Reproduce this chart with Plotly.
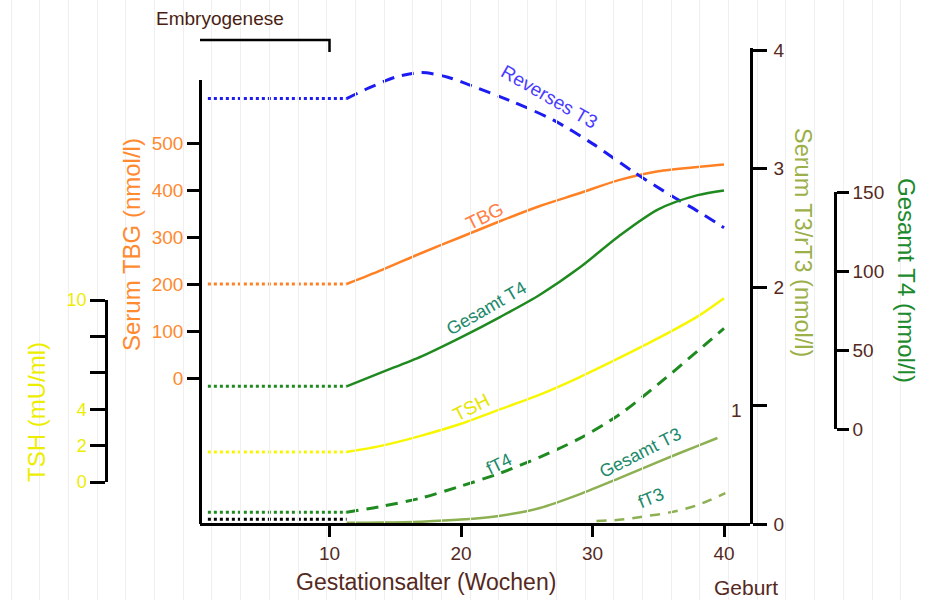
import plotly.graph_objects as go

# ---------------- data ----------------
weeks_dotted = [0.75, 11.3]          # embryonic period, dotted baselines

rt3_dotted = [3.59, 3.59]
weeks_rt3 = [11.3, 13, 15, 17, 19, 21, 24, 27, 30, 33, 36, 38, 40]
rt3 = [3.59, 3.68, 3.77, 3.81, 3.77, 3.69, 3.56, 3.41, 3.21, 2.98, 2.77, 2.64, 2.50]

weeks_main = [11.3, 14, 17, 20, 23, 26, 29, 32, 35, 38, 40]
tbg_dotted = [200, 200]
tbg = [200, 230, 266, 300, 334, 366, 393, 421, 440, 449, 454]
t4_dotted = [27, 27]
t4 = [27, 36, 46, 58, 71, 85, 102, 122, 139, 148, 151]
tsh_dotted = [1.65, 1.65]
tsh = [1.65, 2.0, 2.55, 3.2, 4.0, 4.8, 5.75, 6.8, 7.9, 9.1, 10.1]
ft4_dotted = [0.10, 0.10]
ft4 = [0.10, 0.15, 0.22, 0.32, 0.43, 0.565, 0.72, 0.92, 1.18, 1.46, 1.65]
t3_dotted = [0.04, 0.04]
weeks_t3 = [11.3, 14, 17, 20, 23, 26, 29, 32, 35, 38, 39.5]
t3 = [0.01, 0.012, 0.02, 0.037, 0.07, 0.135, 0.25, 0.385, 0.525, 0.66, 0.726]
weeks_ft3 = [30.3, 32, 34, 36, 38, 40.1]
ft3 = [0.025, 0.035, 0.065, 0.10, 0.16, 0.26]

embryo_weeks = [0, 10]
x_ticks = [10, 20, 30, 40]
tbg_ticks = [0, 100, 200, 300, 400, 500]
tsh_ticks = [0, 2, 4, 6, 8, 10]
tsh_ticktext = ["0", "2", "4", "", "", "10"]
t3_ticks = [0, 1, 2, 3, 4]
t3_ticktext = ["0", "", "2", "3", "4"]
t4_ticks = [0, 50, 100, 150]

# ---------------- styling / geometry ----------------
W, H = 925, 600
FONT = "Liberation Sans, Arial, sans-serif"
BROWN = "#55291d"
BLUE = "#1c1cf2"
ORANGE = "#ff8124"
GREEN = "#1f8a1f"
YELLOW = "#f7f700"
OLIVE = "#8db052"
LBL_GREEN = "#21896a"

def px(x): return x / W
def py(y): return 1 - y / H

X0, XS = 198, 13.15  # pixel of week 0, pixels per week
def xr(p0, p1): return [(p0 - X0) / XS, (p1 - X0) / XS]
def yr(zero, s, bottom, top): return [(zero - bottom) / s, (zero - top) / s]

TBG_Z, TBG_S = 378, 0.47
TSH_Z, TSH_S = 482, 18.2
T3_Z, T3_S = 524, 118.5
T4_Z, T4_S = 429, 1.58

fig = go.Figure()

def add(x, y, yaxis, color, dash=None, width=2.5):
    fig.add_trace(go.Scatter(x=x, y=y, xaxis="x", yaxis=yaxis, mode="lines",
                             line=dict(color=color, width=width, dash=dash, shape="spline", smoothing=0.8),
                             showlegend=False, hoverinfo="skip"))

# dotted embryonic baselines
add(weeks_dotted, rt3_dotted, "y4", BLUE, "dot", 3)
add(weeks_dotted, tbg_dotted, "y2", ORANGE, "dot", 3)
add(weeks_dotted, t4_dotted, "y5", GREEN, "dot", 3)
add(weeks_dotted, tsh_dotted, "y3", YELLOW, "dot", 3)
add(weeks_dotted, ft4_dotted, "y4", GREEN, "dot", 3)
add(weeks_dotted, t3_dotted, "y4", "#000000", "dot", 3)

# fetal curves
add(weeks_rt3, rt3, "y4", BLUE, "12px,8px", 3)
add(weeks_main, tbg, "y2", ORANGE)
add(weeks_main, t4, "y5", GREEN)
add(weeks_main, tsh, "y3", YELLOW)
add(weeks_main, ft4, "y4", GREEN, "12px,8px", 3)
add(weeks_t3, t3, "y4", OLIVE)
add(weeks_ft3, ft3, "y4", OLIVE, "10px,8px", 2.5)

# dummy traces to create the decorative axis subplots
for ya in ["y6", "y7", "y8", "y9"]:
    fig.add_trace(go.Scatter(x=[None], y=[None], xaxis="x2", yaxis=ya, mode="lines",
                             showlegend=False, hoverinfo="skip"))

hidden = dict(visible=False, overlaying="y", anchor="x")
tickfont = dict(family=FONT, size=19, color=BROWN)

layout = dict(
    width=W, height=H, autosize=False,
    margin=dict(l=0, r=0, t=0, b=0, pad=0, autoexpand=False),
    paper_bgcolor="white", plot_bgcolor="rgba(0,0,0,0)",
    font=dict(family=FONT),
    # background grid + data x axis
    xaxis=dict(domain=[0, 1], range=xr(0, W), showgrid=True, gridcolor="#efefef", gridwidth=1,
               tickmode="linear", tick0=(872 - X0) / XS, dtick=28.7 / XS, automargin=False,
               showticklabels=False, ticks="", showline=False, zeroline=False, fixedrange=True),
    yaxis=dict(domain=[0, 1], range=[H, 0], showgrid=True, gridcolor="#efefef", gridwidth=1,
               tickmode="linear", tick0=21.5, dtick=28.7, automargin=False,
               showticklabels=False, ticks="", showline=False, zeroline=False, anchor="x"),
    # data y axes (hidden)
    yaxis2=dict(range=yr(TBG_Z, TBG_S, H, 0), **hidden),
    yaxis3=dict(range=yr(TSH_Z, TSH_S, H, 0), **hidden),
    yaxis4=dict(range=yr(T3_Z, T3_S, H, 0), **hidden),
    yaxis5=dict(range=yr(T4_Z, T4_S, H, 0), **hidden),
    # decorative x axis
    xaxis2=dict(domain=[px(200), px(750)], range=xr(200, 750), anchor="free", position=py(524),
                tickvals=x_ticks, ticks="outside", ticklen=11, tickwidth=2.5, tickcolor="black",
                showline=True, linecolor="black", linewidth=2.5, showgrid=False, zeroline=False,
                tickfont=tickfont, automargin=False),
    # decorative TBG axis
    yaxis6=dict(domain=[py(524), py(80)], range=yr(TBG_Z, TBG_S, 524, 80), anchor="free", position=px(200),
                side="left", tickvals=tbg_ticks, ticks="outside", ticklen=12, tickwidth=2.5, tickcolor="black",
                showline=True, linecolor="black", linewidth=2.5, showgrid=False, zeroline=False,
                tickfont=dict(family=FONT, size=19, color="#ff8a30"), automargin=False),
    # decorative TSH axis
    yaxis7=dict(domain=[py(482), py(300)], range=[0, 10], anchor="free", position=px(106),
                side="left", tickvals=tsh_ticks, ticktext=tsh_ticktext, ticks="outside", ticklen=15,
                tickwidth=2.5, tickcolor="black", automargin=False,
                showline=True, linecolor="black", linewidth=2.5, showgrid=False, zeroline=False,
                tickfont=dict(family=FONT, size=18, color="#eded00")),
    # decorative T3/rT3 axis
    yaxis8=dict(domain=[py(524), py(48)], range=yr(T3_Z, T3_S, 524, 48), anchor="free", position=px(751),
                side="right", tickvals=t3_ticks, ticktext=t3_ticktext, ticks="outside", ticklen=14,
                tickwidth=2.5, tickcolor="black", automargin=False, ticklabelstandoff=3,
                showline=True, linecolor="black", linewidth=2.5, showgrid=False, zeroline=False,
                tickfont=tickfont),
    # decorative Gesamt T4 axis
    yaxis9=dict(domain=[py(429), py(192)], range=[0, 150], anchor="free", position=px(835),
                side="right", tickvals=t4_ticks, ticks="outside", ticklen=12,
                tickwidth=2.5, tickcolor="black", automargin=False,
                showline=True, linecolor="black", linewidth=2.5, showgrid=False, zeroline=False,
                tickfont=tickfont),
)
fig.update_layout(**layout)

# Embryogenese bracket (in week units on the decorative x axis)
fig.add_shape(type="path",
              path=f"M {embryo_weeks[0]},{py(52)} L {embryo_weeks[0]},{py(40)} L {embryo_weeks[1]},{py(40)} L {embryo_weeks[1]},{py(52)}",
              xref="x2", yref="paper", line=dict(color="black", width=2.5))

def ann(text, x, y, color, size=19, angle=0):
    fig.add_annotation(text=text, x=px(x), y=py(y), xref="paper", yref="paper",
                       showarrow=False, textangle=angle, xanchor="center", yanchor="middle",
                       font=dict(family=FONT, size=size, color=color))

ann("Embryogenese", 220, 18, "#4a1e12", 19)
ann("Gestationsalter (Wochen)", 426, 582, BROWN, 23)
ann("Geburt", 746, 587, BROWN, 21)
ann("Serum TBG (nmol/l)", 131, 245, "#ff8a30", 24, -90)
ann("TSH (mU/ml)", 36, 412, "#eded00", 24, -90)
ann("Serum T3/rT3 (nmol/l)", 803, 242, "#9cb04a", 23.5, 90)
ann("Gesamt T4 (nmol/l)", 907, 280, "#1e8a2e", 24, 90)
ann("1", 736, 410, BROWN, 19)

# curve labels
ann("Reverses T3", 549, 96, "#4a3cff", 19, 30)
ann("TBG", 484, 216, "#ff7f45", 19, -26)
ann("Gesamt T4", 487, 308, LBL_GREEN, 18, -30)
ann("TSH", 471, 407, "#e6e600", 19, -27)
ann("fT4", 499, 464, LBL_GREEN, 18, -26)
ann("Gesamt T3", 640, 453, LBL_GREEN, 18, -27)
ann("fT3", 651, 498, LBL_GREEN, 18, -22)

fig.write_html("out.html")
